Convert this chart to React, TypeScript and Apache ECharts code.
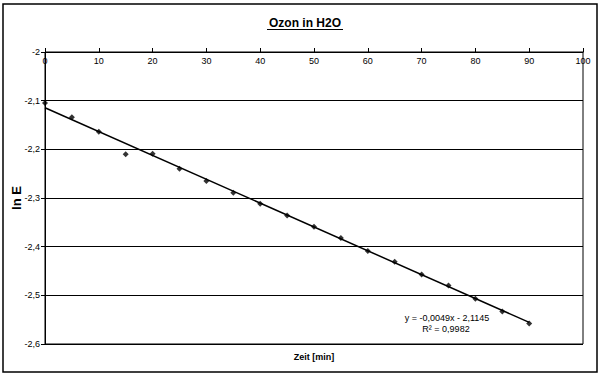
import React, { useEffect, useRef } from "react";
import * as echarts from "echarts";

const timeMin = [0, 5, 10, 15, 20, 25, 30, 35, 40, 45, 50, 55, 60, 65, 70, 75, 80, 85, 90];
const lnE = [-2.105, -2.134, -2.164, -2.21, -2.209, -2.24, -2.265, -2.289, -2.312, -2.336, -2.359, -2.382, -2.409, -2.431, -2.457, -2.48, -2.507, -2.533, -2.558];
const trendSlope = -0.0049;
const trendIntercept = -2.1145;
const trendRange = [0, 90];
const xTicks = [0, 100, 10];
const yTicks = [-2.6, -2.0, 0.1];
const titleText = "Ozon in H2O";
const xName = "Zeit [min]";
const yName = "ln E";
const eqLine1 = "y = -0,0049x - 2,1145";
const eqLine2 = "R² = 0,9982";

const FONT = "'Liberation Sans', Arial, sans-serif";

export default function App() {
  const ref = useRef<HTMLDivElement>(null);
  useEffect(() => {
    if (!ref.current) return;
    const chart = echarts.init(ref.current, null, { renderer: "svg" });
    const points = timeMin.map((t, i) => [t, lnE[i]]);
    const trend = trendRange.map((x) => [x, trendSlope * x + trendIntercept]);
    chart.setOption({
      animation: false,
      backgroundColor: "#fff",
      textStyle: { fontFamily: FONT },
      grid: {
        left: 45,
        right: 17,
        top: 52,
        bottom: 31,
        show: true,
        borderColor: "#000",
        borderWidth: 1,
        backgroundColor: "transparent",
      },
      xAxis: {
        type: "value",
        position: "top",
        min: xTicks[0],
        max: xTicks[1],
        interval: xTicks[2],
        axisLine: { show: true, onZero: false, lineStyle: { color: "#000", width: 1 } },
        axisTick: { show: true, inside: false, length: 4, lineStyle: { color: "#000" } },
        axisLabel: { inside: true, color: "#000", fontSize: 9, fontFamily: FONT, margin: 4 },
        splitLine: { show: false },
      },
      yAxis: {
        type: "value",
        min: yTicks[0],
        max: yTicks[1],
        interval: yTicks[2],
        axisLine: { show: true, onZero: false, lineStyle: { color: "#000", width: 1 } },
        axisTick: { show: true, inside: false, length: 4, lineStyle: { color: "#000" } },
        axisLabel: {
          color: "#000",
          fontSize: 9,
          fontFamily: FONT,
          margin: 5,
          formatter: (v: number) => String(Math.round(v * 10) / 10).replace(".", ","),
        },
        splitLine: { show: true, lineStyle: { color: "#000", width: 1 } },
      },
      series: [
        {
          type: "line",
          data: trend,
          showSymbol: false,
          symbol: "none",
          lineStyle: { color: "#000", width: 1.5 },
          z: 2,
        },
        {
          type: "scatter",
          data: points,
          symbol: "diamond",
          symbolSize: 6,
          itemStyle: { color: "#000" },
          z: 3,
        },
      ],
      graphic: [
        {
          type: "rect",
          shape: { x: 3, y: 4, width: 594, height: 368 },
          style: { fill: "none", stroke: "#000", lineWidth: 1.5 },
          silent: true,
        },
        {
          type: "text",
          x: 305,
          y: 23,
          style: {
            text: titleText,
            fontFamily: FONT,
            fontSize: 12,
            fontWeight: "bold",
            fill: "#000",
            align: "center",
            verticalAlign: "middle",
          },
        },
        {
          type: "line",
          shape: { x1: 267, y1: 29.5, x2: 343, y2: 29.5 },
          style: { stroke: "#000", lineWidth: 1 },
        },
        {
          type: "text",
          x: 314,
          y: 357,
          style: {
            text: xName,
            fontFamily: FONT,
            fontSize: 9,
            fontWeight: "bold",
            fill: "#000",
            align: "center",
            verticalAlign: "middle",
          },
        },
        {
          type: "text",
          x: 16,
          y: 198,
          rotation: Math.PI / 2,
          style: {
            text: yName,
            fontFamily: FONT,
            fontSize: 13,
            fontWeight: "bold",
            fill: "#000",
            align: "center",
            verticalAlign: "middle",
          },
        },
        {
          type: "text",
          x: 447,
          y: 318,
          style: {
            text: eqLine1,
            fontFamily: FONT,
            fontSize: 9,
            fill: "#000",
            align: "center",
            verticalAlign: "middle",
          },
        },
        {
          type: "text",
          x: 446,
          y: 329,
          style: {
            text: eqLine2,
            fontFamily: FONT,
            fontSize: 9,
            fill: "#000",
            align: "center",
            verticalAlign: "middle",
          },
        },
      ],
    });
    return () => chart.dispose();
  }, []);
  return (
    <div
      ref={ref}
      style={{ position: "absolute", left: 0, top: 0, width: 600, height: 375 }}
    />
  );
}
